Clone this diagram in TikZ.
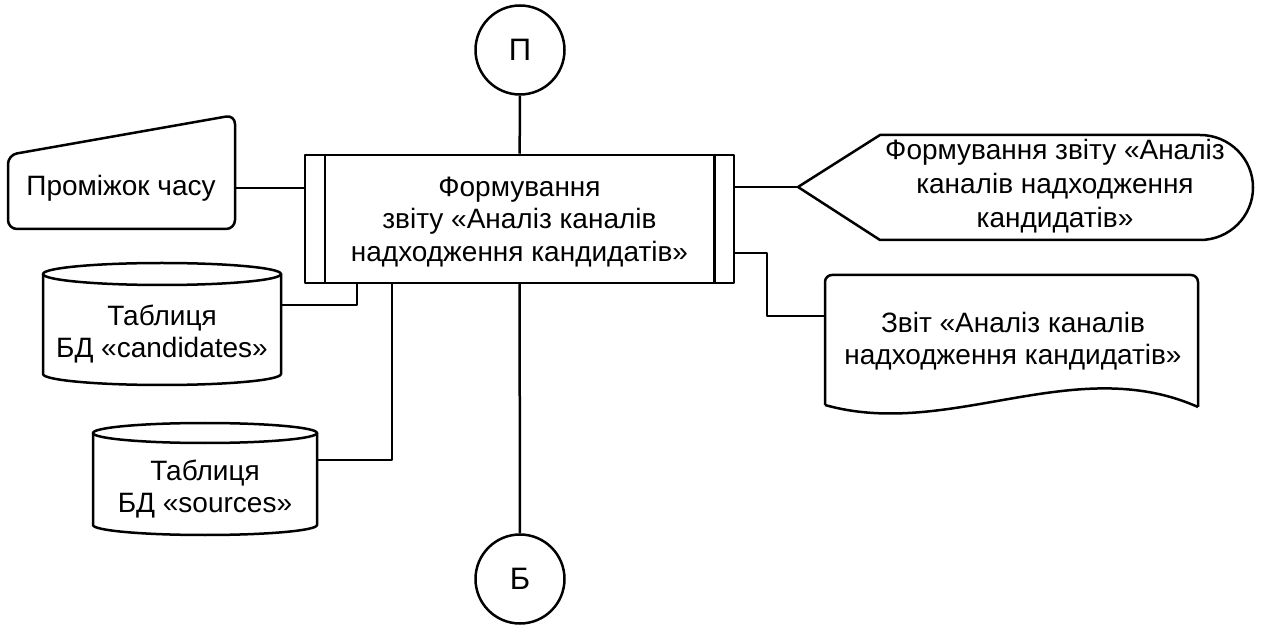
\documentclass[tikz,border=0pt]{standalone}
\usepackage{fontspec}
\setmainfont{Liberation Sans}
\begin{document}
\begin{tikzpicture}[x=1pt,y=-1pt,
  line width=2.5pt, line join=round,
  txt/.style={align=center,font=\fontsize{28}{32.5}\selectfont, inner sep=0pt},
  conn/.style={circle,draw,minimum size=89pt,inner sep=0pt,font=\fontsize{31}{34}\selectfont},
  func/.style={rectangle,draw,minimum width=429pt,minimum height=128pt,inner sep=0pt}
]
\useasboundingbox (0,0) rectangle (1270,628);

% connectors above and below
\node[conn] (top) at (520,50) {П};
\node[conn] (bot) at (520,579) {Б};

% central function block with side bars
\node[func] (main) at (519.5,219) {};
\draw ([xshift=21pt]main.north west) -- ([xshift=21pt]main.south west);
\draw ([xshift=-21pt]main.north east) -- ([xshift=-21pt]main.south east);
\node[txt] (mainT) at (519.5,222) {Формування\\звіту «Аналіз каналів\\надходження кандидатів»};

% manual input: time interval
\draw[rounded corners=9pt] (8,229) -- (8,155) -- (235,115) -- (235,229) -- cycle;
\node[txt] (time) at (121,188) {Проміжок часу};
\coordinate (timeR) at (235,188);

% database tables
\draw (43,274) -- (43,374) arc[start angle=180,end angle=360,x radius=119pt,y radius=11pt] -- (281,274);
\draw (162,274) ellipse[x radius=119pt,y radius=11pt];
\node[txt] (cand) at (162,334) {Таблиця\\БД «candidates»};
\coordinate (candR) at (281,305);

\draw (93,433) -- (93,525) arc[start angle=180,end angle=360,x radius=112pt,y radius=10pt] -- (317,433);
\draw (205,433) ellipse[x radius=112pt,y radius=10pt];
\node[txt] (src) at (205,489) {Таблиця\\БД «sources»};
\coordinate (srcR) at (317,460);

% display output
\draw (798,187) -- (880,135) -- (1200,135) arc[start angle=90,end angle=-90,x radius=53pt,y radius=52.5pt] -- (880,240) -- cycle;
\node[txt,font=\fontsize{28}{34}\selectfont] (disp) at (1055,186) {Формування звіту «Аналіз\\каналів надходження\\кандидатів»};
\coordinate (dispL) at (798,187);

% document output
\draw[rounded corners=7pt] (825,405) -- (825,275) -- (1198,275) -- (1198,407);
\draw (1198,407) .. controls (1074,352) and (949,440) .. (825,405);
\node[txt] (doc) at (1013,341) {Звіт «Аналіз каналів\\надходження кандидатів»};
\coordinate (docL) at (825,316);

% wiring
\draw (top) -- (main);
\draw (main) -- (bot);
\draw (timeR) -- (timeR -| main.west);
\draw (candR) -| (357,283);
\draw (srcR) -| (392,283);
\draw (main.east |- dispL) -- (dispL);
\draw (734,253) -- (767,253) |- (docL);
\end{tikzpicture}
\end{document}
